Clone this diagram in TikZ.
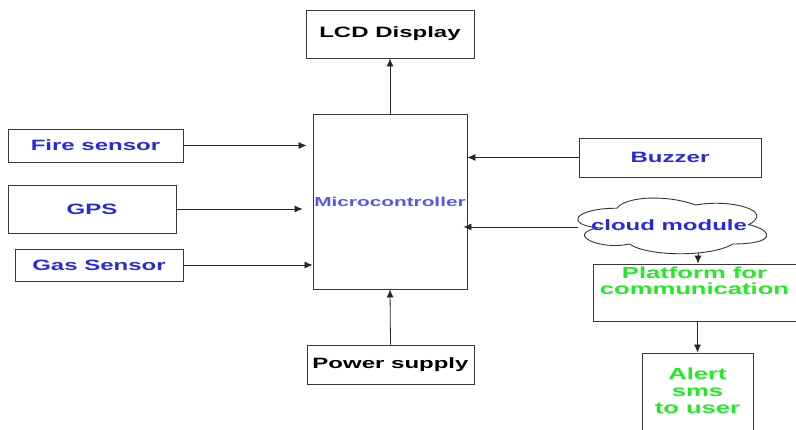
\documentclass[tikz,border=0pt]{standalone}
\usepackage{fontspec}
\newfontfamily\blockfont{Liberation Sans Bold}[FakeStretch=1.6]
\usetikzlibrary{arrows.meta}
\definecolor{txtblue}{RGB}{40,40,225}
\definecolor{mcblue}{RGB}{85,85,245}
\definecolor{txtgreen}{RGB}{35,235,35}
\definecolor{edgegray}{RGB}{55,55,55}
\begin{document}
\begin{tikzpicture}[x=1pt,y=-1pt,
        blk/.style={draw=edgegray, line width=0.9pt, inner sep=0pt},
        lbl/.style={inner sep=0pt, font=\blockfont\fontsize{15}{15}\selectfont},
        arr/.style={-{Latex[length=8pt,width=7pt]}, line width=0.8pt, draw=black!85}]
    \useasboundingbox (0,0) rectangle (796,430);
    % blocks
    \node[blk, lbl, minimum width=154pt, minimum height=175pt, text=mcblue,
          font=\blockfont\fontsize{13}{13}\selectfont] (micro) at (390,201.5) {Microcontroller};
    \node[blk, lbl, minimum width=168pt, minimum height=48pt] (lcd) at (390,34) {LCD Display};
    \node[blk, lbl, minimum width=175pt, minimum height=33pt, text=txtblue] (fire) at (95.5,145.5) {Fire sensor};
    \node[blk, lbl, minimum width=168pt, minimum height=48pt, text=txtblue] (gps) at (92,209) {GPS};
    \node[blk, lbl, minimum width=168pt, minimum height=32pt, text=txtblue] (gas) at (99,265) {Gas Sensor};
    \node[blk, lbl, minimum width=182pt, minimum height=39pt, text=txtblue] (buzzer) at (670,157.5) {Buzzer};
    \node[blk, lbl, minimum width=167pt, minimum height=39pt] (power) at (390.5,364.5) {Power supply};
    % cloud outline
    \begin{scope}[shift={(564,192)}, x=211pt, y=-65pt]
        \draw[blk] (0.25,0.25) .. controls (0.05,0.25) and (0,0.5) .. (0.16,0.55)
            .. controls (0,0.66) and (0.18,0.9) .. (0.31,0.8)
            .. controls (0.4,1) and (0.7,1) .. (0.8,0.8)
            .. controls (1,0.8) and (1,0.6) .. (0.875,0.5)
            .. controls (1,0.3) and (0.8,0.1) .. (0.625,0.2)
            .. controls (0.5,0.05) and (0.3,0.05) .. (0.25,0.25) -- cycle;
    \end{scope}
    \node[lbl, text=txtblue] (cloud) at (669,225) {cloud module};
    \coordinate (cloudwest) at (578,227);
    \coordinate (cloudfoot) at (698,253);
    \node[blk, minimum width=203pt, minimum height=57pt] (plat) at (694.5,292.5) {};
    \node[lbl, anchor=north, yshift=-3pt, align=center, text=txtgreen,
          font=\blockfont\fontsize{16}{16}\selectfont] (platlbl) at (plat.north) {Platform for\\communication};
    \node[blk, minimum width=111pt, minimum height=94pt] (alert) at (697.5,400) {};
    \node[lbl, anchor=north, yshift=-15pt, align=center, text=txtgreen,
          font=\blockfont\fontsize{16}{17}\selectfont] (alertlbl) at (alert.north) {Alert\\sms\\to user};
    % connectors
    \draw[arr] (micro.north) -- (lcd.south);
    \draw[arr, shorten >=6pt] (fire.east) -- (fire.east -| micro.west);
    \draw[arr, shorten >=10pt] (gps.east) -- (gps.east -| micro.west);
    \draw[arr] (gas.east) -- (gas.east -| micro.west);
    \draw[arr] (buzzer.west) -- (buzzer.west -| micro.east);
    \draw[arr, shorten >=-4pt] (cloudwest) -- (cloudwest -| micro.east);
    \draw[arr] (cloudfoot) -- (cloudfoot |- plat.north);
    \draw[arr] (plat.south -| alert.north) -- (alert.north);
    \draw[arr] (power.north) -- (micro.south);
\end{tikzpicture}
\end{document}
